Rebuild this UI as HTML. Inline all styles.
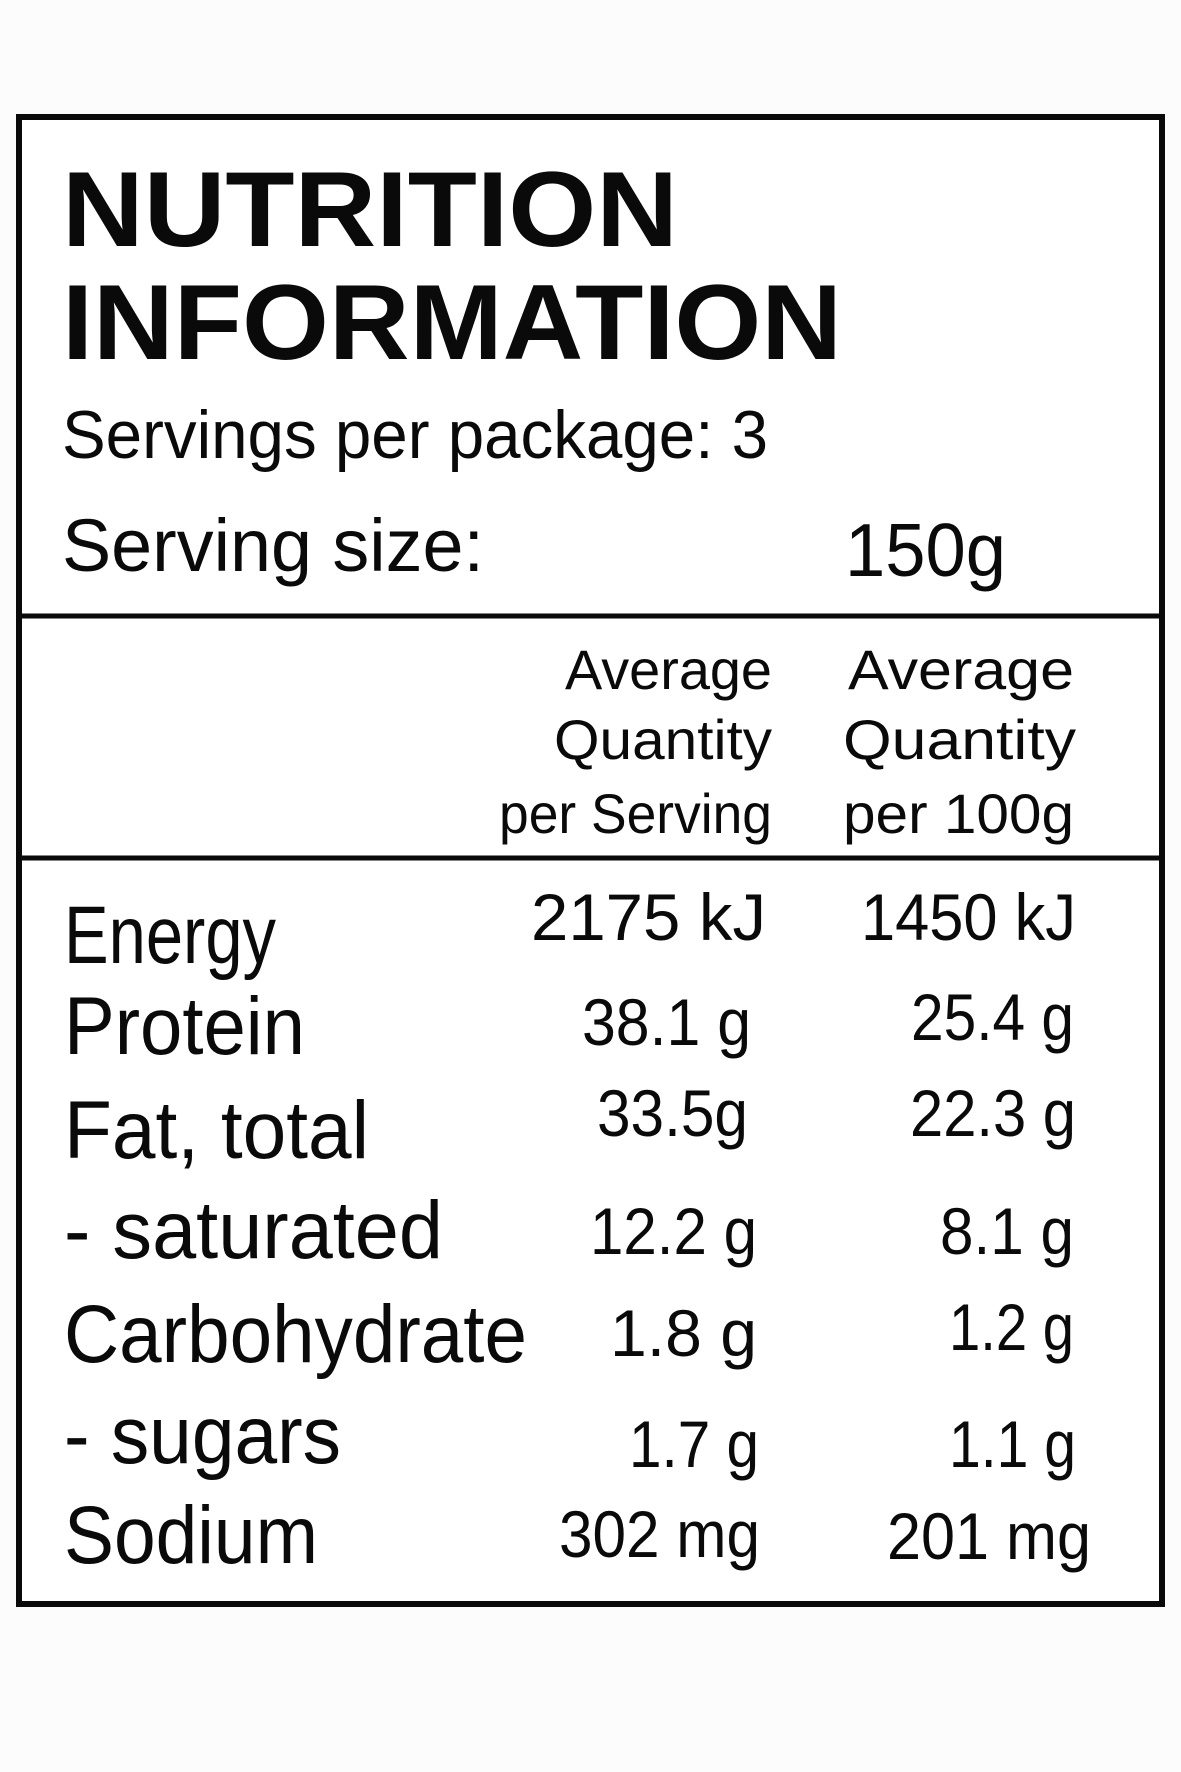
<!DOCTYPE html>
<html><head><meta charset="utf-8"><style>
html,body{margin:0;padding:0;background:#fcfcfc;}
svg{display:block}
text{font-family:"Liberation Sans",sans-serif;fill:#0a0a0a}
</style></head><body>
<svg width="1181" height="1772" viewBox="0 0 1181 1772" xmlns="http://www.w3.org/2000/svg">
<rect x="0" y="0" width="1181" height="1772" fill="#fcfcfc"/>
<rect x="19" y="117" width="1143" height="1487" fill="#fff" stroke="#0a0a0a" stroke-width="6"/>
<line x1="19" y1="616" x2="1162" y2="616" stroke="#0a0a0a" stroke-width="5"/>
<line x1="19" y1="858" x2="1162" y2="858" stroke="#0a0a0a" stroke-width="5"/>

<g font-weight="bold" font-size="107">
<text x="62" y="246" textLength="616" lengthAdjust="spacingAndGlyphs">NUTRITION</text>
<text x="62" y="359" textLength="780" lengthAdjust="spacingAndGlyphs">INFORMATION</text>
</g>
<text x="62" y="458" font-size="68" textLength="706" lengthAdjust="spacingAndGlyphs">Servings per package: 3</text>
<text x="62" y="571" font-size="74" textLength="422" lengthAdjust="spacingAndGlyphs">Serving size:</text>
<text x="845" y="576" font-size="75" textLength="161" lengthAdjust="spacingAndGlyphs">150g</text>

<g font-size="56">
<text x="565" y="689" textLength="207" lengthAdjust="spacingAndGlyphs">Average</text>
<text x="554" y="759" textLength="218" lengthAdjust="spacingAndGlyphs">Quantity</text>
<text x="499" y="833" textLength="273" lengthAdjust="spacingAndGlyphs">per Serving</text>
<text x="848" y="689" textLength="226" lengthAdjust="spacingAndGlyphs">Average</text>
<text x="843" y="759" textLength="233" lengthAdjust="spacingAndGlyphs">Quantity</text>
<text x="843" y="833" textLength="231" lengthAdjust="spacingAndGlyphs">per 100g</text>
</g>

<g font-size="82">
<text x="64" y="963" textLength="212" lengthAdjust="spacingAndGlyphs">Energy</text>
<text x="64" y="1054" textLength="241" lengthAdjust="spacingAndGlyphs">Protein</text>
<text x="64" y="1158" textLength="305" lengthAdjust="spacingAndGlyphs">Fat, total</text>
<text x="64" y="1258" textLength="379" lengthAdjust="spacingAndGlyphs">- saturated</text>
<text x="64" y="1362" textLength="463" lengthAdjust="spacingAndGlyphs">Carbohydrate</text>
<text x="64" y="1463" textLength="277" lengthAdjust="spacingAndGlyphs">- sugars</text>
<text x="64" y="1563" textLength="254" lengthAdjust="spacingAndGlyphs">Sodium</text>
</g>

<g font-size="66">
<text x="531" y="940" textLength="235" lengthAdjust="spacingAndGlyphs">2175 kJ</text>
<text x="582" y="1045" textLength="169" lengthAdjust="spacingAndGlyphs">38.1 g</text>
<text x="597" y="1136" textLength="151" lengthAdjust="spacingAndGlyphs">33.5g</text>
<text x="590" y="1254" textLength="167" lengthAdjust="spacingAndGlyphs">12.2 g</text>
<text x="610" y="1356" textLength="147" lengthAdjust="spacingAndGlyphs">1.8 g</text>
<text x="629" y="1467" textLength="130" lengthAdjust="spacingAndGlyphs">1.7 g</text>
<text x="559" y="1557" textLength="201" lengthAdjust="spacingAndGlyphs">302 mg</text>

<text x="861" y="940" textLength="215" lengthAdjust="spacingAndGlyphs">1450 kJ</text>
<text x="911" y="1040" textLength="163" lengthAdjust="spacingAndGlyphs">25.4 g</text>
<text x="910" y="1136" textLength="166" lengthAdjust="spacingAndGlyphs">22.3 g</text>
<text x="940" y="1254" textLength="134" lengthAdjust="spacingAndGlyphs">8.1 g</text>
<text x="949" y="1350" textLength="125" lengthAdjust="spacingAndGlyphs">1.2 g</text>
<text x="949" y="1467" textLength="127" lengthAdjust="spacingAndGlyphs">1.1 g</text>
<text x="887" y="1559" textLength="204" lengthAdjust="spacingAndGlyphs">201 mg</text>
</g>
</svg>
</body></html>
